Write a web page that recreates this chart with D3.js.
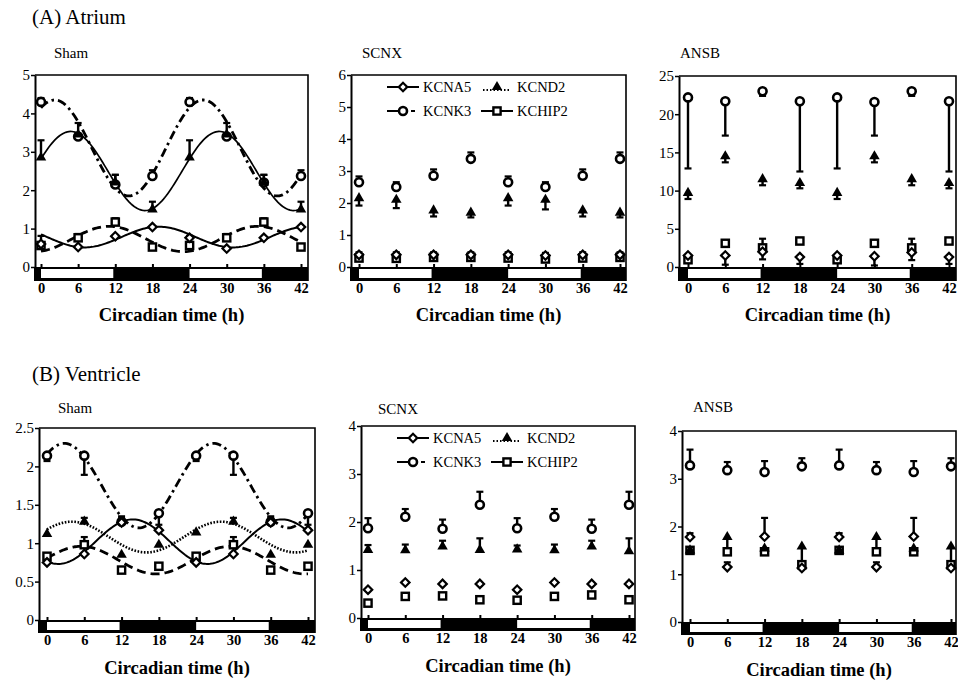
<!DOCTYPE html>
<html><head><meta charset="utf-8">
<script src="https://cdn.jsdelivr.net/npm/d3@7"></script>
<style>
body{margin:0;background:#fff}
svg{display:block}
</style>
</head><body><svg id="c" width="958" height="680"></svg>
<script>
// ---------------- DATA ----------------
const hours = [0, 6, 12, 18, 24, 30, 36, 42];
const genes = ["KCNA5", "KCND2", "KCNK3", "KCHIP2"];
const lightPhases = [[0, 12], [24, 36]];   // white segments of the light/dark bar

// rows: KCNA5, KCND2, KCNK3, KCHIP2 ; err: signed (+ up, - down)
const atriumSham = [
  [0.60, 0.52, 0.80, 1.04, 0.76, 0.48, 0.76, 1.04],
  [2.85, 3.45, 2.20, 1.50, 2.85, 3.45, 2.20, 1.50],
  [4.30, 3.40, 2.15, 2.37, 4.30, 3.40, 2.20, 2.37],
  [0.56, 0.76, 1.17, 0.52, 0.56, 0.76, 1.17, 0.52]];
const atriumShamErr = [
  [0, 0, 0, 0, 0, 0, 0, 0],
  [0.45, 0.30, 0.20, 0.20, 0.45, 0.30, 0.20, 0.20],
  [0.10, 0, 0.25, 0.15, 0.10, 0, 0.20, 0.15],
  [0.25, 0.10, 0.10, 0.05, 0.25, 0.10, 0.10, 0.05]];
// cosinor fits: [mesor, amplitude, acrophase (h)]
const atriumShamFit = [[0.78, 0.27, 19], [2.5, 1.03, 4.8], [3.1, 1.25, 2.2], [0.73, 0.33, 11]];

const atriumSCNX = [
  [0.38, 0.38, 0.38, 0.38, 0.38, 0.36, 0.38, 0.38],
  [2.15, 2.10, 1.77, 1.70, 2.15, 2.10, 1.77, 1.70],
  [2.65, 2.50, 2.85, 3.38, 2.65, 2.50, 2.85, 3.38],
  [0.28, 0.27, 0.30, 0.30, 0.28, 0.25, 0.28, 0.30]];
const atriumSCNXErr = [
  [0.08, 0.08, 0.08, 0.08, 0.08, 0.08, 0.08, 0.08],
  [-0.23, -0.26, -0.19, -0.15, -0.23, -0.30, -0.19, -0.15],
  [0.18, 0.15, 0.20, 0.20, 0.18, 0.15, 0.20, 0.20],
  [-0.08, -0.08, -0.08, -0.08, -0.08, -0.08, -0.08, -0.08]];

const atriumANSB = [
  [1.5, 1.5, 2.0, 1.3, 1.5, 1.4, 1.9, 1.3],
  [9.7, 14.5, 11.5, 11.0, 9.7, 14.5, 11.5, 11.0],
  [22.2, 21.7, 23.0, 21.7, 22.2, 21.6, 23.0, 21.7],
  [0.95, 3.1, 2.5, 3.4, 0.95, 3.1, 2.5, 3.4]];
const atriumANSBErr = [
  [-0.5, -1.2, -1.0, -0.9, -0.5, -1.2, -1.0, -0.9],
  [-0.8, -0.8, -0.8, -0.7, -0.8, -0.8, -0.8, -0.7],
  [-9.3, -4.5, -0.6, -9.2, -9.3, -4.4, -0.6, -9.2],
  [0.4, 0.4, 1.2, 0.4, 0.4, 0.4, 1.2, 0.4]];

const ventSham = [
  [0.75, 0.86, 1.27, 1.17, 0.75, 0.86, 1.27, 1.17],
  [1.12, 1.28, 0.85, 0.98, 1.14, 1.28, 0.85, 0.98],
  [2.14, 2.14, 1.28, 1.39, 2.14, 2.14, 1.28, 1.39],
  [0.83, 0.98, 0.65, 0.70, 0.83, 0.98, 0.65, 0.70]];
const ventShamErr = [
  [0, 0, 0.08, 0, 0, 0, 0.08, 0],
  [0, 0.05, 0, 0, 0, 0.05, 0, 0],
  [-0.07, -0.25, 0.05, -0.15, -0.07, -0.25, 0.05, -0.15],
  [0, 0.10, 0, 0, 0, 0.10, 0, 0]];
const ventShamFit = [[1.02, 0.29, 13.8], [1.08, 0.20, 4.0], [1.75, 0.55, 2.8], [0.78, 0.18, 5.5]];

const ventSCNX = [
  [0.59, 0.74, 0.71, 0.71, 0.59, 0.74, 0.71, 0.71],
  [1.42, 1.41, 1.49, 1.42, 1.43, 1.41, 1.49, 1.39],
  [1.87, 2.11, 1.86, 2.36, 1.87, 2.11, 1.86, 2.36],
  [0.31, 0.45, 0.46, 0.38, 0.37, 0.45, 0.48, 0.38]];
const ventSCNXErr = [
  [0, 0, 0, 0, 0, 0, 0, 0],
  [0.10, 0.12, 0.12, 0.24, 0.08, 0.12, 0.12, 0.27],
  [0.21, 0.16, 0.19, 0.27, 0.21, 0.16, 0.19, 0.27],
  [0.05, 0.03, 0.05, 0.03, 0.03, 0.03, 0.05, 0.03]];

const ventANSB = [
  [1.78, 1.15, 1.79, 1.13, 1.78, 1.15, 1.79, 1.13],
  [1.50, 1.78, 1.54, 1.58, 1.50, 1.78, 1.54, 1.58],
  [3.28, 3.18, 3.14, 3.26, 3.28, 3.18, 3.14, 3.26],
  [1.50, 1.47, 1.47, 1.20, 1.50, 1.47, 1.47, 1.20]];
const ventANSBErr = [
  [0.08, 0.10, 0.39, 0, 0.08, 0.10, 0.39, 0],
  [0, -0.30, 0, -0.38, 0, -0.30, 0, -0.38],
  [0.33, 0.17, 0.23, 0.17, 0.33, 0.17, 0.23, 0.17],
  [0, 0, 0, 0, 0, 0, 0, 0]];

// ---------------- LAYOUT ----------------
const FONT = "'Liberation Serif', 'Times New Roman', Times, serif";
const svg = d3.select("#c").style("font-family", FONT);
const panels = [
  {title: "Sham", mean: atriumSham, err: atriumShamErr, fit: atriumShamFit, ymax: 5, step: 1,
   ax: 35, right: 308, top: 75, zero: 267, x0: 41, x42: 301, tx: 54, ty: 58, barH: 14, nd2Solid: true},
  {title: "SCNX", mean: atriumSCNX, err: atriumSCNXErr, ymax: 6, step: 1,
   ax: 351, right: 626, top: 75, zero: 267, x0: 359, x42: 620, tx: 362, ty: 58, barH: 14, legend: true},
  {title: "ANSB", mean: atriumANSB, err: atriumANSBErr, ymax: 25, step: 5,
   ax: 679, right: 956, top: 76, zero: 267, x0: 688, x42: 949, tx: 680, ty: 58, barH: 14},
  {title: "Sham", mean: ventSham, err: ventShamErr, fit: ventShamFit, ymax: 2.5, step: 0.5,
   ax: 39, right: 315, top: 428, zero: 620, x0: 47, x42: 308, tx: 58, ty: 413, barH: 13},
  {title: "SCNX", mean: ventSCNX, err: ventSCNXErr, ymax: 4, step: 1,
   ax: 361, right: 635, top: 426, zero: 618, x0: 368, x42: 629, tx: 378, ty: 414, barH: 13, legend: true},
  {title: "ANSB", mean: ventANSB, err: ventANSBErr, ymax: 4, step: 1,
   ax: 682, right: 956, top: 431, zero: 622, x0: 690, x42: 951, tx: 693, ty: 412, barH: 13}
];

function txt(sel) { return sel.style("font-family", FONT).attr("fill", "#000"); }

txt(svg.append("text")).attr("x", 32).attr("y", 24).style("font-size", "21px").text("(A) Atrium");
txt(svg.append("text")).attr("x", 32).attr("y", 381).style("font-size", "21px").text("(B) Ventricle");

// marker painters
function drawMarker(sel, gi, cx, cy) {
  if (gi === 0) { // diamond (open)
    sel.append("rect").attr("x", cx - 3).attr("y", cy - 3).attr("width", 6).attr("height", 6)
      .attr("transform", `rotate(45,${cx},${cy})`)
      .attr("fill", "#fff").attr("stroke", "#000").attr("stroke-width", 2.2);
  } else if (gi === 1) { // filled triangle
    sel.append("path").attr("d", d3.symbol(d3.symbolTriangle, 48)())
      .attr("transform", `translate(${cx},${cy})`).attr("fill", "#000");
  } else if (gi === 2) { // open circle
    sel.append("circle").attr("cx", cx).attr("cy", cy).attr("r", 4)
      .attr("fill", "#fff").attr("stroke", "#000").attr("stroke-width", 2.6);
  } else { // open square
    sel.append("rect").attr("x", cx - 3.6).attr("y", cy - 3.6).attr("width", 7.2).attr("height", 7.2)
      .attr("fill", "#fff").attr("stroke", "#000").attr("stroke-width", 2.4);
  }
}
const lineStyles = [
  {w: 2, dash: null},
  {w: 2.6, dash: "1.6,1.6"},
  {w: 2.8, dash: "9,4,2.5,4"},
  {w: 2.8, dash: "9,5"}
];

panels.forEach(p => {
  const x = d3.scaleLinear().domain([0, 42]).range([p.x0, p.x42]);
  const y = d3.scaleLinear().domain([0, p.ymax]).range([p.zero, p.top]);
  const g = svg.append("g");

  // frame (top + right)
  g.append("path").attr("d", `M${p.ax},${p.top}H${p.right}V${p.zero}`)
    .attr("fill", "none").attr("stroke", "#000").attr("stroke-width", 1.6);

  // light/dark bar
  g.append("rect").attr("x", p.ax - 1).attr("y", p.zero).attr("width", p.right - p.ax + 1.8)
    .attr("height", p.barH).attr("fill", "#000");
  lightPhases.forEach(([a, b]) => {
    g.append("rect").attr("x", x(a)).attr("y", p.zero + 2)
      .attr("width", x(b) - x(a) - 2).attr("height", p.barH - 5).attr("fill", "#fff");
  });

  // small ticks above bar
  const topTicks = g.append("g").attr("transform", `translate(0,${p.zero})`)
    .call(d3.axisTop(x).tickValues(hours).tickSize(3).tickFormat(""));
  topTicks.select(".domain").remove();
  topTicks.selectAll("line").attr("stroke-width", 2);

  // x labels
  const xa = g.append("g").attr("transform", `translate(0,${p.zero + p.barH})`)
    .call(d3.axisBottom(x).tickValues(hours).tickSize(0).tickPadding(2));
  xa.attr("font-family", null);
  xa.select(".domain").remove();
  txt(xa.selectAll("text")).style("font-size", "14.5px").style("font-weight", "bold");

  // y axis
  const ya = g.append("g").attr("transform", `translate(${p.ax},0)`)
    .call(d3.axisLeft(y).tickValues(d3.range(0, p.ymax + 1e-9, p.step))
      .tickSize(4).tickSizeOuter(0).tickPadding(1).tickFormat(d3.format("~g")));
  ya.attr("font-family", null);
  ya.select(".domain").attr("stroke-width", 2);
  ya.selectAll("line").attr("stroke-width", 1.5);
  txt(ya.selectAll("text")).style("font-size", "15px");

  // titles
  txt(g.append("text")).attr("x", p.tx).attr("y", p.ty).style("font-size", "15px").text(p.title);
  txt(g.append("text")).attr("x", (p.ax + p.right) / 2).attr("y", p.zero + 54)
    .attr("text-anchor", "middle").style("font-size", "18.5px").style("font-weight", "bold")
    .text("Circadian time (h)");

  // fitted curves
  if (p.fit) {
    const ts = d3.range(0, 42.001, 0.25);
    p.fit.forEach((f, gi) => {
      const st = lineStyles[gi];
      const solid = gi === 1 && p.nd2Solid;
      g.append("path")
        .attr("d", d3.line().x(t => x(t)).y(t => y(f[0] + f[1] * Math.cos(2 * Math.PI * (t - f[2]) / 24)))(ts))
        .attr("fill", "none").attr("stroke", "#000")
        .attr("stroke-width", solid ? 1.7 : st.w)
        .attr("stroke-dasharray", solid ? null : st.dash);
    });
  }

  // error bars
  p.err.forEach((row, gi) => {
    row.forEach((e, i) => {
      if (!e) return;
      const cx = x(hours[i]), v = p.mean[gi][i];
      g.append("line").attr("x1", cx).attr("x2", cx).attr("y1", y(v)).attr("y2", y(v + e))
        .attr("stroke", "#000").attr("stroke-width", 2.4);
      g.append("line").attr("x1", cx - 3.5).attr("x2", cx + 3.5).attr("y1", y(v + e)).attr("y2", y(v + e))
        .attr("stroke", "#000").attr("stroke-width", 2.2);
    });
  });

  // markers (order: circles, squares, diamonds, triangles)
  [2, 3, 0, 1].forEach(gi => {
    p.mean[gi].forEach((v, i) => drawMarker(g, gi, x(hours[i]), y(v)));
  });

  // legend
  if (p.legend) {
    const rows = [[0, 1], [2, 3]];
    rows.forEach((pair, r) => {
      const ly = p.top + 12 + r * 24;
      pair.forEach((gi, c) => {
        const mx = p.ax + 52 + c * 94;
        const lg = g.append("g");
        if (gi === 1) {
          lg.append("line").attr("x1", mx - 14).attr("x2", mx + 14).attr("y1", ly + 3).attr("y2", ly + 3)
            .attr("stroke", "#000").attr("stroke-width", 2).attr("stroke-dasharray", "1.5,2");
        } else if (gi === 2) {
          lg.append("line").attr("x1", mx - 16).attr("x2", mx).attr("y1", ly).attr("y2", ly)
            .attr("stroke", "#000").attr("stroke-width", 2);
          lg.append("line").attr("x1", mx + 8).attr("x2", mx + 12).attr("y1", ly).attr("y2", ly)
            .attr("stroke", "#000").attr("stroke-width", 2);
        } else {
          lg.append("line").attr("x1", mx - 16).attr("x2", mx + 16).attr("y1", ly).attr("y2", ly)
            .attr("stroke", "#000").attr("stroke-width", 2);
        }
        drawMarker(lg, gi, mx, ly);
        txt(lg.append("text")).attr("x", mx + 20).attr("y", ly + 5).style("font-size", "14.5px").text(genes[gi]);
      });
    });
  }
});
</script>
</body></html>
